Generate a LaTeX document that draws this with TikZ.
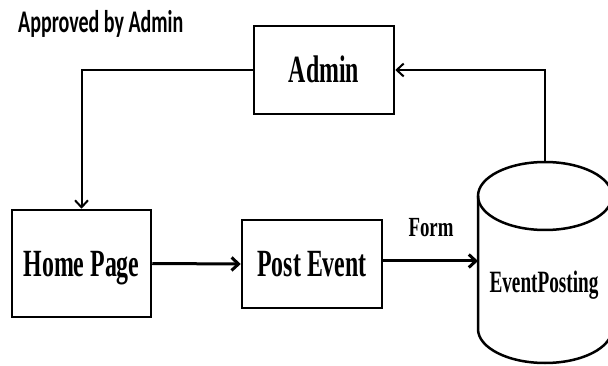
\documentclass[tikz,border=0pt]{standalone}
\usepackage{fontspec}
\setmainfont{Liberation Serif}
\newfontfamily\boxfont[FakeStretch=0.62]{Liberation Serif}
\newfontfamily\formfont[FakeStretch=0.68]{Liberation Serif}
\newfontfamily\titlefont[FakeStretch=0.635]{Carlito}
\usetikzlibrary{arrows.meta}
\begin{document}
\begin{tikzpicture}[x=1pt,y=-1pt,
  box/.style={draw, line width=2.5pt, inner sep=0pt,
    font=\boxfont\bfseries\fontsize{38.5}{40}\selectfont,
    text height=25.5pt, text depth=0pt},
  cyl/.style={draw, line width=2.5pt},
  thinarrow/.style={line width=2pt, -{Straight Barb[length=7pt,width=13pt]}},
  thickarrow/.style={line width=3pt, -{Straight Barb[length=7pt,width=13pt]}},
  label/.style={inner sep=0pt, anchor=base}
]
\useasboundingbox (0,0) rectangle (608,366);

% title
\node[inner sep=0pt, anchor=base west,
  font=\titlefont\bfseries\fontsize{31.5}{33}\selectfont] (approved) at (18,33) {Approved by Admin};

% boxes
\node[box, minimum width=140pt, minimum height=88pt] (admin) at (324,70) {Admin};
\node[box, minimum width=139pt, minimum height=107pt] (home) at (81.5,263.5) {Home Page};
\node[box, minimum width=140pt, minimum height=88pt] (post) at (312,264) {Post Event};

% cylinder (database)
\path[cyl] (478,196) -- (478,329) arc[start angle=180, end angle=0, x radius=67, y radius=34] -- (612,196);
\path[cyl] (545,196) ellipse[x radius=67, y radius=34];
\coordinate (dbtop) at (545,162);
\coordinate (dbleft) at (478,261);
\node[label, font=\boxfont\bfseries\fontsize{31}{33}\selectfont] (db) at (544,293) {EventPosting};

% label
\node[label, font=\formfont\bfseries\fontsize{27.7}{30}\selectfont] (form) at (431,237) {Form};

% connectors
\draw[thinarrow] (admin.west) -| (home.north);
\draw[thinarrow] (dbtop) |- (admin.east);
\draw[thickarrow] (home.east) -- (post.west);
\draw[thickarrow] (post.east |- dbleft) -- (dbleft);
\end{tikzpicture}
\end{document}
